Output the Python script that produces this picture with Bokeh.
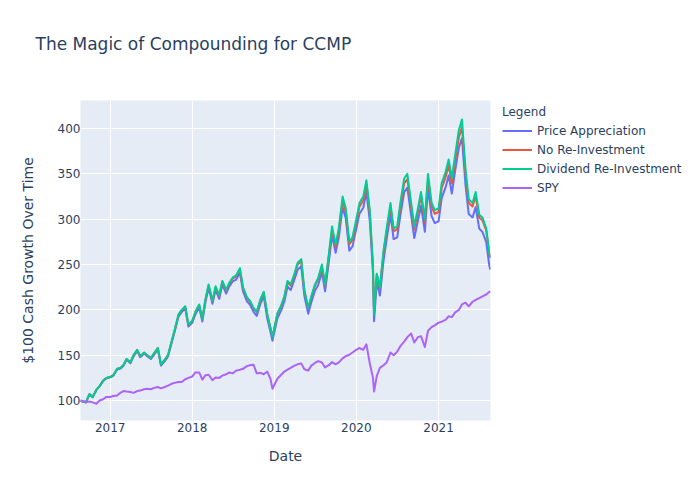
import pandas as pd
from bokeh.plotting import figure
from bokeh.models import Range1d, FixedTicker, DatetimeTickFormatter, Legend, LegendItem, Title
from bokeh.embed import file_html
from bokeh.resources import INLINE

dates = [
    "2016-08-22", "2016-09-01", "2016-09-15", "2016-10-01", "2016-10-15", "2016-11-01", "2016-11-15", "2016-12-01", "2016-12-15",
    "2017-01-01", "2017-01-15", "2017-02-01", "2017-02-15", "2017-03-01", "2017-03-15", "2017-04-01", "2017-04-15",
    "2017-05-01", "2017-05-15", "2017-06-01", "2017-06-15", "2017-07-01", "2017-07-15", "2017-08-01", "2017-08-15",
    "2017-09-01", "2017-09-15", "2017-10-01", "2017-10-15", "2017-11-01", "2017-11-15", "2017-12-01", "2017-12-15",
    "2018-01-01", "2018-01-15", "2018-02-01", "2018-02-15", "2018-03-01", "2018-03-15", "2018-04-01", "2018-04-15",
    "2018-05-01", "2018-05-15", "2018-06-01", "2018-06-15", "2018-07-01", "2018-07-15", "2018-08-01", "2018-08-15",
    "2018-09-01", "2018-09-15", "2018-10-01", "2018-10-15", "2018-11-01", "2018-11-15", "2018-12-01", "2018-12-15", "2018-12-24",
    "2019-01-15", "2019-02-01", "2019-02-15", "2019-03-01", "2019-03-15", "2019-04-01", "2019-04-15",
    "2019-05-01", "2019-05-15", "2019-06-01", "2019-06-15", "2019-07-01", "2019-07-15", "2019-08-01", "2019-08-15",
    "2019-09-01", "2019-09-15", "2019-10-01", "2019-10-15", "2019-11-01", "2019-11-15", "2019-12-01", "2019-12-15",
    "2020-01-01", "2020-01-15", "2020-02-01", "2020-02-15", "2020-03-01", "2020-03-15", "2020-03-20", "2020-04-01", "2020-04-15",
    "2020-05-01", "2020-05-15", "2020-06-01", "2020-06-15", "2020-07-01", "2020-07-15", "2020-08-01", "2020-08-15",
    "2020-09-01", "2020-09-15", "2020-10-01", "2020-10-15", "2020-11-01", "2020-11-15", "2020-12-01", "2020-12-15",
    "2021-01-01", "2021-01-15", "2021-02-01", "2021-02-15", "2021-03-01", "2021-03-15", "2021-04-01", "2021-04-15",
    "2021-05-01", "2021-05-15", "2021-06-01", "2021-06-15", "2021-07-01", "2021-07-15", "2021-08-01", "2021-08-15", "2021-08-20",
]

price_appreciation = [
    100, 99, 98, 107, 103.7, 111.7, 115.7, 121.6, 124.6,
    125.6, 127.3, 134.2, 135.2, 138.2, 145.2, 141.2, 148.8, 154.7, 147.8, 151.8, 148.8, 145.8, 150.4, 156.4, 138.5, 143.5, 148.4, 163.3, 175.8, 192.6, 197.6, 201.5, 181.7,
    185.7, 195.0, 202.9, 187.1, 208.8, 224.5, 206.8, 222.0, 212.1, 227.9, 218.0, 225.9, 231.8, 233.2, 241.0, 220.4, 209.6, 205.7, 197.9, 193.4, 207.1, 214.9, 190.5, 175.8, 166.0,
    190.8, 199.5, 209.3, 225.8, 221.9, 233.6, 244.4, 248.3, 215.3, 195.9, 208.5, 221.1, 227.2, 241.7, 220.5, 253.3, 282.3, 263.0, 279.7, 313.5, 301.0, 265.3, 270.1,
    289.4, 306.0, 312.7, 330.1, 298.3, 240.6, 187.6, 230.9, 215.8, 254.1, 278.1, 305.0, 278.1, 280.0, 304.2, 330.0, 334.8, 304.2, 279.3, 298.4, 314.9, 286.2, 333.9, 303.4, 295.8,
    297.7, 323.6, 335.1, 348.4, 328.4, 352.2, 378.8, 389.4, 337.2, 305.8, 302.0, 313.4, 289.7, 286.1, 274.7, 248.2, 244.4,
]

no_reinvestment = [
    100, 99, 98, 107, 104.0, 112.0, 116.0, 122.0, 124.9,
    125.9, 128.0, 134.9, 135.9, 138.9, 145.9, 141.9, 149.8, 155.8, 148.9, 152.8, 149.8, 146.9, 151.8, 157.8, 139.9, 144.9, 149.8, 164.7, 177.6, 194.4, 199.3, 203.3, 183.5,
    187.5, 197.4, 205.3, 189.5, 211.2, 226.9, 209.2, 225.0, 215.1, 230.8, 221.0, 228.9, 234.7, 236.7, 244.6, 224.0, 213.2, 209.3, 201.5, 197.6, 211.2, 219.1, 194.6, 180.0, 170.2,
    195.7, 204.4, 214.2, 230.7, 226.8, 238.5, 250.1, 253.9, 221.0, 201.6, 214.2, 226.8, 233.6, 248.1, 226.8, 259.7, 288.7, 269.4, 286.8, 320.6, 308.1, 272.4, 277.2,
    296.5, 313.9, 320.6, 338.0, 306.2, 248.5, 195.5, 238.8, 224.5, 262.8, 286.8, 313.7, 286.8, 288.7, 313.7, 339.5, 344.3, 313.7, 288.8, 307.9, 325.2, 296.5, 344.2, 313.7, 306.1,
    308.0, 334.7, 346.2, 359.5, 339.5, 363.3, 389.9, 401.4, 349.2, 317.8, 314.0, 325.4, 301.7, 298.9, 287.5, 261.0, 257.2,
]

dividend_reinvestment = [
    100, 99, 98, 107, 104, 112, 116, 122, 125,
    126, 128, 135, 136, 139, 146, 142, 150, 156, 149, 153, 150, 147, 152, 158, 140, 145, 150, 165, 178, 195, 200, 204, 184,
    188, 198, 206, 190, 212, 228, 210, 226, 216, 232, 222, 230, 236, 238, 246, 225, 214, 210, 202, 198, 212, 220, 195, 180, 170,
    196, 205, 215, 232, 228, 240, 252, 256, 222, 202, 215, 228, 235, 250, 228, 262, 292, 272, 290, 325, 312, 275, 280,
    300, 318, 325, 343, 310, 250, 195, 240, 225, 265, 290, 318, 290, 292, 318, 345, 350, 318, 292, 312, 330, 300, 350, 318, 310,
    312, 340, 352, 366, 345, 370, 398, 410, 355, 322, 318, 330, 305, 302, 290, 262, 258,
]

spy = [
    100, 99.5, 98.5, 99, 98, 96.5, 100, 101.5, 104,
    104, 105, 105.5, 108.5, 110.5, 110, 109.5, 108.5, 110.5, 111, 112.5, 113, 112.5, 114, 115, 113.5, 115, 116.5, 118.5, 119.5, 120.5, 120.5, 123.5, 125,
    126.5, 131, 131, 123, 128, 128.5, 122.5, 125.5, 125, 127.5, 129, 131, 130, 133, 134, 135, 138, 139, 139.5, 130, 130.5, 129, 132, 124, 113,
    124, 128.5, 132, 134, 136, 138.5, 140, 141, 134.5, 133, 138.5, 141.5, 143.5, 142, 136.5, 139, 142.5, 140, 142, 146.5, 149, 150.5, 153,
    156, 158, 156, 162, 141, 125, 110, 127, 136, 139, 142, 153, 150, 154, 160, 165, 170, 174, 164, 170, 171, 159, 177, 181, 183,
    186, 187, 189, 193, 192, 197, 200, 206, 208, 204, 209, 211, 213, 215, 217, 220, 220,
]

series_names = ["Price Appreciation", "No Re-Investment", "Dividend Re-Investment", "SPY"]
series_colors = ["#636efa", "#EF553B", "#00cc96", "#ab63fa"]
year_ticks = ["2017-01-01", "2018-01-01", "2019-01-01", "2020-01-01", "2021-01-01"]
y_ticks = [100, 150, 200, 250, 300, 350, 400]
title_text = "The Magic of Compounding for CCMP"

FONT = "DejaVu Sans"
TXT = "#2a3f5f"

x = pd.to_datetime(dates)

p = figure(frame_width=410, frame_height=320, x_axis_type="datetime", output_backend="svg", toolbar_location=None,
           x_range=Range1d(x[0], x[-1]), y_range=Range1d(78, 431), title=None,
           min_border_left=80, min_border_right=205, min_border_top=100, min_border_bottom=80)

p.background_fill_color = "#E5ECF6"
p.border_fill_color = "white"
p.outline_line_color = None

# spacer (closest to the frame), then the real title above it
p.add_layout(Title(text=" ", text_font_size="1px", standoff=44, text_color="white"), "above")
p.add_layout(Title(text=title_text, text_font=FONT, text_font_size="17px", text_font_style="normal",
                   text_color=TXT, offset=-45, standoff=0), "above")

renderers = []
for vals, col in zip([price_appreciation, no_reinvestment, dividend_reinvestment, spy], series_colors):
    r = p.line(x, vals, line_color=col, line_width=2, line_join="round")
    renderers.append(r)

tick_ms = [pd.Timestamp(t).value // 10**6 for t in year_ticks]
p.xaxis.ticker = FixedTicker(ticks=tick_ms)
p.xaxis.formatter = DatetimeTickFormatter(years="%Y", months="%Y", days="%Y", hours="%Y",
                                          hourmin="%Y", minutes="%Y", minsec="%Y", seconds="%Y",
                                          milliseconds="%Y", microseconds="%Y")
p.yaxis.ticker = FixedTicker(ticks=y_ticks)

for ax in (p.xaxis[0], p.yaxis[0]):
    ax.axis_line_color = None
    ax.major_tick_line_color = None
    ax.minor_tick_line_color = None
    ax.major_tick_out = 0
    ax.major_tick_in = 0
    ax.minor_tick_out = 0
    ax.minor_tick_in = 0
    ax.major_label_text_font = FONT
    ax.major_label_text_font_size = "12px"
    ax.major_label_text_color = TXT
    ax.axis_label_text_font = FONT
    ax.axis_label_text_font_size = "14px"
    ax.axis_label_text_font_style = "normal"
    ax.axis_label_text_color = TXT

p.xaxis.axis_label = "Date"
p.yaxis.axis_label = "$100 Cash Growth Over Time"
p.xaxis.major_label_standoff = 2
p.xaxis.axis_label_standoff = 13
p.yaxis.major_label_standoff = 0
p.yaxis.axis_label_standoff = 19

p.xgrid.grid_line_color = "white"
p.ygrid.grid_line_color = "white"
p.xgrid.grid_line_width = 1
p.ygrid.grid_line_width = 1

legend = Legend(
    items=[LegendItem(label=n, renderers=[r]) for n, r in zip(series_names, renderers)],
    title="Legend", location=(12, 223),
    title_text_font=FONT, title_text_font_size="12px", title_text_font_style="normal", title_text_color=TXT,
    label_text_font=FONT, label_text_font_size="12px", label_text_color=TXT,
    glyph_width=30, glyph_height=19, label_height=19, label_standoff=5, spacing=0,
    padding=0, margin=0, title_standoff=2,
    background_fill_alpha=0, border_line_color=None,
)
p.add_layout(legend, "right")

open("out.html", "w").write(file_html(p, INLINE))
